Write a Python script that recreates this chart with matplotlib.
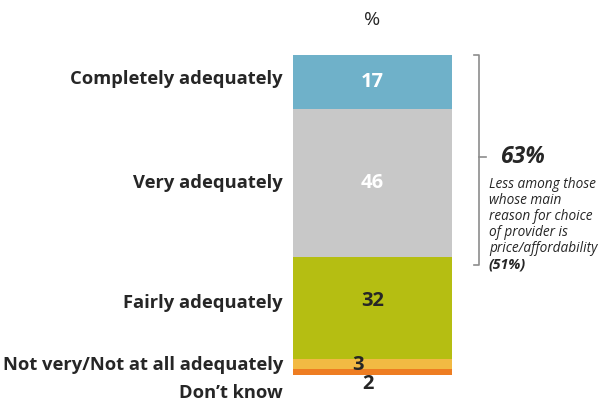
import matplotlib
matplotlib.use("Agg")
import matplotlib.pyplot as plt

# Stacked single bar: how adequately needs are met
categories = ["Completely adequately", "Very adequately", "Fairly adequately",
              "Not very/Not at all adequately", "Don\u2019t know"]
values = [17, 46, 32, 3, 2]
colors = ["#6FB1C9", "#C8C8C8", "#B5BE12", "#F2BA43", "#EE7D22"]
value_colors = ["white", "white", "#262626", "#262626", "#262626"]
top_two = 63
note_lines = ["Less among those", "whose main", "reason for choice",
              "of provider is", "price/affordability"]
note_pct = "(51%)"

plt.rcParams['font.family'] = ['Open Sans', 'DejaVu Sans']
dark = "#262626"

fig = plt.figure(figsize=(6, 4.05), dpi=100)
ax = fig.add_axes([293/600, 1-375/405, (452-293)/600, 320/405])
ax.set_xlim(0, 1)
ax.set_ylim(0, 100)
ax.axis("off")

top = 100
centers = []
for v, c in zip(values, colors):
    ax.bar(0.5, v, width=1, bottom=top - v, color=c, edgecolor="none")
    centers.append(top - v / 2)
    top -= v

# values inside the segments; the small ones get nudged apart
val_y = [centers[0], centers[1], centers[2] + 2, centers[3] - 0.5, centers[4] - 3.8]
val_x = [0.5, 0.5, 0.5, 0.41, 0.47]
for x, y, v, tc in zip(val_x, val_y, values, value_colors):
    ax.text(x, y, str(v), ha="center", va="center", fontsize=14.5,
            fontweight="bold", color=tc)

# category labels on the left
lab_y = [centers[0] + 1, centers[1], centers[2] + 1.5, centers[3] - 0.5, -5.5]
for lab, y in zip(categories, lab_y):
    ax.text(-0.063, y, lab, ha="right", va="center", fontsize=13.2,
            fontweight="bold", color=dark, transform=ax.transData)

ax.text(0.5, 111, "%", ha="center", va="center", fontsize=14, color=dark)

# bracket around the top two boxes
bx = 1.172
b_top, b_bot = 100, 34.5
mid = 68
gray = "#8C8C8C"
ax.plot([bx - 0.035, bx, bx, bx - 0.035], [b_top, b_top, b_bot, b_bot],
        color=gray, lw=1.2, clip_on=False)
ax.plot([bx, bx + 0.04], [mid, mid], color=gray, lw=1.2, clip_on=False)

ax.text(bx + 0.13, mid, f"{top_two}%", ha="left", va="center", fontsize=16.5,
        fontweight="bold", style="italic", color=dark)
ly = 59.5
for line in note_lines:
    ax.text(bx + 0.06, ly, line, ha="left", va="center", fontsize=9.8,
            style="italic", color=dark)
    ly -= 5
ax.text(bx + 0.06, ly, note_pct, ha="left", va="center", fontsize=10.2,
        style="italic", fontweight="bold", color=dark)

fig.savefig("out.png", dpi=100, facecolor="white")
